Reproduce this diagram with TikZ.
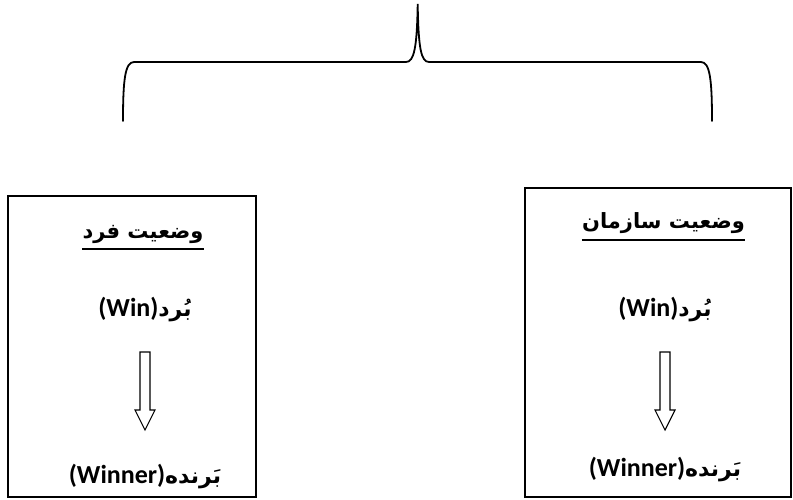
\documentclass[tikz,border=0pt]{standalone}
\usepackage{fontspec}
\TeXXeTstate=1
\newfontfamily\latinfont{Carlito}
\newfontfamily\arabicfont[Script=Arabic]{DejaVu Sans}
\newcommand{\lat}[1]{{\latinfont\bfseries\fontsize{26}{30}\selectfont #1}}
% headings: several words, set right to left
\newcommand{\fa}[1]{{\arabicfont\bfseries\fontsize{21}{25}\selectfont\beginR #1\endR}}
% a single Persian word
\newcommand{\faw}[1]{{\arabicfont\bfseries\fontsize{22}{26}\selectfont #1}}
\tikzset{
  panel/.style={draw, line width=1.3pt, inner sep=0pt},
  label/.style={inner sep=0pt, anchor=base},
  ul/.style={line width=1.8pt},
  brace/.style={line width=1.8pt, line cap=round},
  blockarrow/.style={draw, line width=1.1pt, line join=miter, fill=white}
}
\begin{document}
\begin{tikzpicture}[x=1pt, y=-1pt]
  \useasboundingbox (0,0) rectangle (793,499);

  % curly brace over the two panels
  \draw[brace] (123,121) .. controls (123,80) and (125,62) .. (134,62)
    -- (406,62) .. controls (414,62) and (417,48) .. (417.7,4)
    .. controls (418.4,48) and (421,62) .. (429,62)
    -- (701,62) .. controls (710,62) and (712,80) .. (712,121);

  % panels
  \draw[panel] (8,196) rectangle (256,497);
  \draw[panel] (525,188) rectangle (791,497);

  % left panel: individual
  \node[label] (hl) at (143,238) {\fa{وضعیت فرد}};
  \draw[ul] (hl.west |- 0,249) -- (hl.east |- 0,249);
  \node[label] (wl) at (145,316) {\lat{(Win)}\faw{بُرد}};
  \node[label] (nl) at (145,483) {\lat{(Winner)}\faw{بَرنده}};
  \coordinate (al) at (145,352);
  \draw[blockarrow] ([xshift=-5pt]al) -- ([xshift=-5pt,yshift=-58pt]al)
    -- ([xshift=-10pt,yshift=-58pt]al) -- ([yshift=-78pt]al)
    -- ([xshift=10pt,yshift=-58pt]al) -- ([xshift=5pt,yshift=-58pt]al)
    -- ([xshift=5pt]al) -- cycle;

  % right panel: organisation
  \node[label] (hr) at (663.5,228) {\fa{وضعیت سازمان}};
  \draw[ul] (hr.west |- 0,240) -- (hr.east |- 0,240);
  \node[label] (wr) at (665,316) {\lat{(Win)}\faw{بُرد}};
  \node[label] (nr) at (665,476) {\lat{(Winner)}\faw{بَرنده}};
  \coordinate (ar) at (665,352);
  \draw[blockarrow] ([xshift=-5pt]ar) -- ([xshift=-5pt,yshift=-58pt]ar)
    -- ([xshift=-10pt,yshift=-58pt]ar) -- ([yshift=-78pt]ar)
    -- ([xshift=10pt,yshift=-58pt]ar) -- ([xshift=5pt,yshift=-58pt]ar)
    -- ([xshift=5pt]ar) -- cycle;
\end{tikzpicture}
\end{document}
